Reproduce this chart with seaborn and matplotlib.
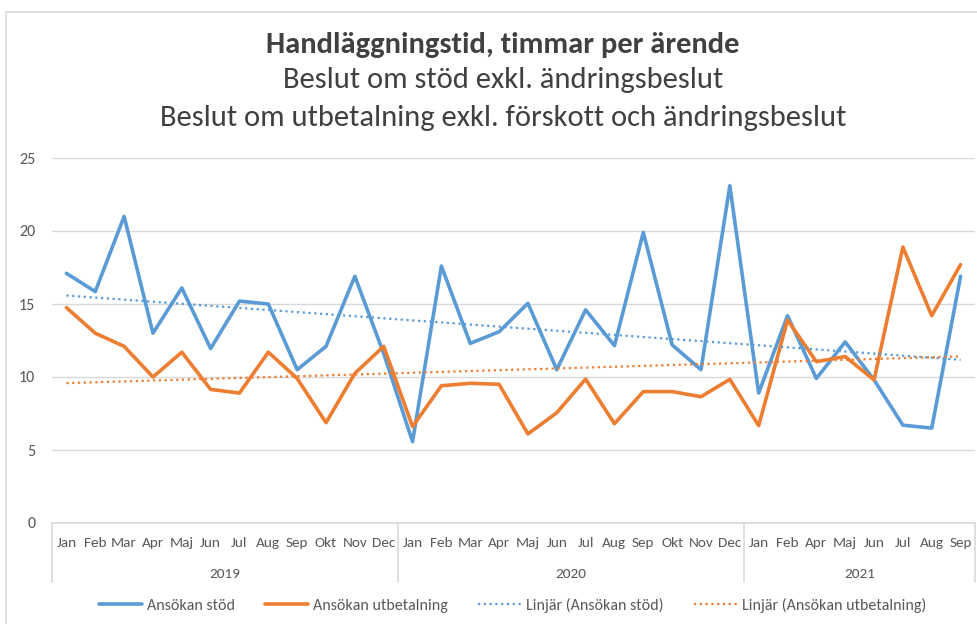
import numpy as np
import pandas as pd
import seaborn as sns
import matplotlib.pyplot as plt
from matplotlib import font_manager
from matplotlib.lines import Line2D
from matplotlib.patches import Rectangle

# Data
years = ['2019'] * 12 + ['2020'] * 12 + ['2021'] * 8
months = ['Jan', 'Feb', 'Mar', 'Apr', 'Maj', 'Jun', 'Jul', 'Aug', 'Sep', 'Okt', 'Nov', 'Dec',
          'Jan', 'Feb', 'Mar', 'Apr', 'Maj', 'Jun', 'Jul', 'Aug', 'Sep', 'Okt', 'Nov', 'Dec',
          'Jan', 'Feb', 'Apr', 'Maj', 'Jun', 'Jul', 'Aug', 'Sep']
stod = [17.1, 15.85, 21.0, 13.0, 16.1, 11.95, 15.2, 15.0, 10.5, 12.1, 16.9, 11.6,
        5.57, 17.6, 12.3, 13.1, 15.05, 10.5, 14.6, 12.15, 19.9, 12.2, 10.5, 23.1,
        8.9, 14.2, 9.9, 12.4, 9.8, 6.7, 6.5, 16.9]
utbet = [14.75, 13.0, 12.1, 10.0, 11.7, 9.15, 8.9, 11.7, 9.9, 6.87, 10.25, 12.1,
         6.6, 9.4, 9.57, 9.5, 6.1, 7.55, 9.86, 6.8, 9.0, 9.0, 8.65, 9.84,
         6.67, 13.9, 11.05, 11.4, 9.8, 18.9, 14.2, 17.7]
series_names = ['Ansökan stöd', 'Ansökan utbetalning']

BLUE = '#5B9BD5'
ORANGE = '#ED7D31'
GRID = '#d9d9d9'
TXT = '#595959'

sns.set_theme(style='white')
installed = {f.name for f in font_manager.fontManager.ttflist}
fams = [f for f in ['Carlito', 'Liberation Sans Narrow', 'DejaVu Sans'] if f in installed]
plt.rcParams['font.family'] = fams

n = len(months)
x = np.arange(n)
df = pd.DataFrame({
    'x': np.concatenate([x, x]),
    'value': stod + utbet,
    'serie': [series_names[0]] * n + [series_names[1]] * n,
})

fig = plt.figure(figsize=(9.78, 6.24), dpi=100)
ax = fig.add_axes([52 / 978, 1 - 523 / 624, (975 - 52) / 978, (523 - 158) / 624])

# chart border
fig.patches.append(Rectangle((6 / 978, -0.1), 1.2, 1 - 12 / 624 + 0.1, transform=fig.transFigure,
                             fill=False, edgecolor=GRID, lw=1.2))

sns.lineplot(data=df, x='x', y='value', hue='serie', palette=[BLUE, ORANGE],
             linewidth=2.6, legend=False, ax=ax)

# linear trend lines
for vals, col in [(stod, BLUE), (utbet, ORANGE)]:
    k, m = np.polyfit(x, vals, 1)
    ax.plot(x, k * x + m, linestyle=(0, (1, 1.6)), color=col, linewidth=1.6)

ax.set_xlim(-0.5, n - 0.5)
ax.set_ylim(0, 25)
ax.set_yticks([0, 5, 10, 15, 20, 25])
ax.yaxis.grid(True, color=GRID, linewidth=1)
ax.set_axisbelow(True)
for s in ['top', 'right', 'left']:
    ax.spines[s].set_visible(False)
ax.spines['bottom'].set_color(GRID)
ax.spines['bottom'].set_linewidth(1.2)
ax.tick_params(axis='y', length=0, labelsize=11.5, labelcolor=TXT, pad=12)
ax.set_xlabel('')
ax.set_ylabel('')

# month labels
ax.set_xticks(x)
ax.set_xticklabels(months)
ax.tick_params(axis='x', length=0, labelsize=11, labelcolor=TXT, pad=10)

# year groups and separators
tr = ax.get_xaxis_transform()
bounds = [-0.5]
for yr in ['2019', '2020', '2021']:
    idx = [i for i, y in enumerate(years) if y == yr]
    ax.text((idx[0] + idx[-1]) / 2, -51 / 365, yr, transform=tr, ha='center', va='center',
            fontsize=11, color=TXT)
    bounds.append(idx[-1] + 0.5)
for b in bounds:
    ax.plot([b, b], [0, -59 / 365], transform=tr, color=GRID, lw=1.2, clip_on=False)

# titles
fig.text(0.514, 1 - 45 / 624, 'Handläggningstid, timmar per ärende', ha='center', va='center',
         fontsize=22, fontweight='bold', color='#404040')
fig.text(0.514, 1 - 80 / 624, 'Beslut om stöd exkl. ändringsbeslut', ha='center', va='center',
         fontsize=22, color='#404040')
fig.text(0.514, 1 - 118 / 624, 'Beslut om utbetalning exkl. förskott och ändringsbeslut',
         ha='center', va='center', fontsize=22, color='#404040')

handles = [
    Line2D([], [], color=BLUE, lw=2.6),
    Line2D([], [], color=ORANGE, lw=2.6),
    Line2D([], [], color=BLUE, lw=1.6, linestyle=(0, (1, 1.6))),
    Line2D([], [], color=ORANGE, lw=1.6, linestyle=(0, (1, 1.6))),
]
labels = series_names + ['Linjär (Ansökan stöd)', 'Linjär (Ansökan utbetalning)']
leg = fig.legend(handles, labels, loc='center', bbox_to_anchor=(0.524, 1 - 605 / 624), ncol=4,
                 frameon=False, fontsize=11.5, handlelength=2.7, handletextpad=0.3,
                 columnspacing=1.9)
for t in leg.get_texts():
    t.set_color(TXT)

fig.savefig('out.png', dpi=100)
